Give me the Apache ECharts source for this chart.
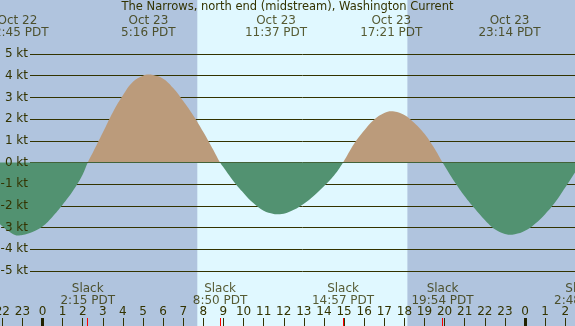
<!DOCTYPE html>
<html>
<head>
<meta charset="utf-8">
<title>The Narrows, north end (midstream), Washington Current</title>
<script src="https://cdn.jsdelivr.net/npm/echarts@6.0.0/dist/echarts.min.js"></script>
<style>
html, body { margin: 0; padding: 0; }
#currentDiv { width: 575px; height: 326px; }
</style>
</head>
<body>
<div id="currentDiv"></div>
<script>
// hours counted from 0:00 PDT Oct 23
var hours = [-2.5, -2.11, -1.5, -1.22, -1, -0.5, 0, 0.5, 1, 1.5, 2, 2.25, 2.5, 3, 3.5, 4, 4.5, 5, 5.27, 5.5,
	6, 6.5, 7, 7.5, 8, 8.5, 8.83, 9, 9.5, 10, 10.5, 11, 11.5, 11.62, 12, 12.5, 13, 13.5, 14, 14.5,
	14.95, 15.5, 16, 16.5, 17, 17.35, 17.5, 18, 18.5, 19, 19.5, 19.9, 20.5, 21, 21.5, 22, 22.5, 23,
	23.23, 23.5, 24, 24.5, 25, 25.5, 26, 26.5, 26.8, 27];
// current speed, kt (flood +, ebb -)
var speeds = [-2.4, -2.85, -3.28, -3.36, -3.34, -3.2, -2.95, -2.5, -1.95, -1.33, -0.55, 0, 0.45, 1.38, 2.32, 3.1, 3.72, 4.0, 4.05, 4.03,
	3.86, 3.43, 2.83, 2.17, 1.41, 0.58, 0, -0.22, -0.86, -1.4, -1.88, -2.22, -2.37, -2.39, -2.36, -2.18, -1.9, -1.53, -1.1, -0.6,
	0, 0.86, 1.47, 1.98, 2.28, 2.36, 2.35, 2.19, 1.82, 1.32, 0.64, 0, -0.9, -1.55, -2.12, -2.65, -3.08, -3.3,
	-3.33, -3.31, -3.15, -2.82, -2.38, -1.83, -1.15, -0.44, 0, 0.3];
// max flood / max ebb
var peakTimes = [-1.25, 5.267, 11.617, 17.35, 23.233];
var peakLabels = ['Oct 22\n22:45 PDT', 'Oct 23\n5:16 PDT', 'Oct 23\n11:37 PDT', 'Oct 23\n17:21 PDT', 'Oct 23\n23:14 PDT'];
// slack water
var slackTimes = [2.25, 8.833, 14.95, 19.9, 26.8];
var slackLabels = ['Slack\n2:15 PDT', 'Slack\n8:50 PDT', 'Slack\n14:57 PDT', 'Slack\n19:54 PDT', 'Slack\n2:48 PDT'];
// hour ticks along the bottom
var hourTicks = [-2, -1, 0, 1, 2, 3, 4, 5, 6, 7, 8, 9, 10, 11, 12, 13, 14, 15, 16, 17, 18, 19, 20, 21, 22, 23, 24, 25, 26];
var hourLabels = ['22', '23', '0', '1', '2', '3', '4', '5', '6', '7', '8', '9', '10', '11', '12', '13', '14', '15', '16', '17',
	'18', '19', '20', '21', '22', '23', '0', '1', '2'];
var midnightTicks = [0, 24];
// sunrise / sunset
var daylight = [7.7, 18.15];

var timeMin = -2.114, timeMax = 26.487;
var textColor = '#333300';
var fontName = 'DejaVu Sans';

$ready(function () {
	var myChart = echarts.init(document.getElementById('currentDiv'));
	var curveData = hours.map(function (h, i) { return [h, speeds[i]]; });
	var peakData = peakTimes.map(function (h, i) { return { value: [h, 1], label: { formatter: peakLabels[i] } }; });
	var slackData = slackTimes.map(function (h, i) { return { value: [h, 0], label: { formatter: slackLabels[i] } }; });

	function timeAxis(grid, extra) {
		var ax = { type: 'value', gridIndex: grid, min: timeMin, max: timeMax, show: false };
		for (var k in extra) ax[k] = extra[k];
		return ax;
	}

	var option = {
		backgroundColor: '#b0c4de',
		animation: false,
		textStyle: { fontFamily: fontName },
		title: {
			text: 'The Narrows, north end (midstream), Washington Current',
			left: 'center', top: 0, padding: [1, 0, 0, 0],
			textStyle: { fontSize: 11.5, fontWeight: 'normal', color: textColor, fontFamily: fontName, lineHeight: 12 }
		},
		grid: [
			{ left: 0, right: 0, top: 0, bottom: 0, outerBoundsMode: 'none' },    // whole frame: day band, ticks, labels
			{ left: 0, right: 0, top: 54, bottom: 55, outerBoundsMode: 'none' },  // current curve
			{ left: 30, right: 0, top: 54, bottom: 55, outerBoundsMode: 'none' }  // kt lines
		],
		visualMap: {
			show: false, type: 'piecewise', seriesIndex: 1, dimension: 1,
			pieces: [{ min: -10, max: 0, color: '#529271' }, { min: 0, max: 10, color: '#bb9b7b' }]
		},
		xAxis: [
			timeAxis(0, {
				show: true, position: 'bottom', z: 1,
				axisLine: { show: false }, splitLine: { show: false },
				axisTick: { show: true, inside: true, length: 8, customValues: hourTicks, lineStyle: { color: textColor, width: 1 } },
				axisLabel: {
					show: true, inside: true, margin: 8, customValues: hourTicks,
					color: textColor, fontSize: 12, lineHeight: 12, fontFamily: fontName,
					formatter: function (v) { return hourLabels[hourTicks.indexOf(v)]; }
				}
			}),
			timeAxis(0, {
				show: true, position: 'bottom', z: 1,
				axisLine: { show: false }, splitLine: { show: false }, axisLabel: { show: false },
				axisTick: { show: true, inside: true, length: 8, customValues: midnightTicks, lineStyle: { color: '#222200', width: 3 } }
			}),
			timeAxis(0, {
				show: true, position: 'bottom', z: 1,
				axisLine: { show: false }, splitLine: { show: false }, axisLabel: { show: false },
				axisTick: { show: true, inside: true, length: 8, customValues: slackTimes.slice(0, 4), lineStyle: { color: '#ff0000', width: 1 } }
			}),
			timeAxis(1, {}),
			timeAxis(2, {})
		],
		yAxis: [
			{ type: 'value', gridIndex: 0, min: 0, max: 1, show: false },
			{ type: 'value', gridIndex: 1, min: -5, max: 5, show: false },
			{
				type: 'value', gridIndex: 2, position: 'left', min: -5, max: 5, interval: 1, z: 1,
				axisLine: { show: false }, axisTick: { show: false }, axisLabel: { show: false },
				splitLine: { show: true, lineStyle: { color: textColor, width: 1 } }
			},
			{
				type: 'value', gridIndex: 2, position: 'left', min: -5, max: 5, interval: 1, z: 5,
				axisLine: { show: false }, axisTick: { show: false }, splitLine: { show: false },
				axisLabel: { margin: 2, formatter: '{value} kt', color: textColor, fontSize: 12, fontFamily: fontName }
			}
		],
		series: [
			{
				// daylight band
				type: 'line', xAxisIndex: 0, yAxisIndex: 0, z: 0, silent: true,
				data: [[daylight[0], 0], [daylight[1], 0]],
				showSymbol: false, lineStyle: { width: 0 },
				markArea: {
					silent: true, z: 0,
					itemStyle: { color: '#e0f8ff' },
					data: [[{ xAxis: daylight[0], yAxis: 0 }, { xAxis: daylight[1], yAxis: 1 }]]
				}
			},
			{
				type: 'line', xAxisIndex: 3, yAxisIndex: 1, z: 2,
				data: curveData, smooth: 0.4, showSymbol: false, silent: true,
				lineStyle: { width: 0 },
				areaStyle: { opacity: 1 }
			},
			{
				type: 'scatter', xAxisIndex: 0, yAxisIndex: 0, z: 3, clip: false, silent: true,
				symbolSize: 1, itemStyle: { color: 'transparent' },
				label: { show: true, position: 'bottom', distance: 14, color: textColor, fontSize: 12, lineHeight: 12, fontFamily: fontName, align: 'center' },
				data: peakData
			},
			{
				type: 'scatter', xAxisIndex: 0, yAxisIndex: 0, z: 3, clip: false, silent: true,
				symbolSize: 1, itemStyle: { color: 'transparent' },
				label: { show: true, position: 'top', distance: 19, color: textColor, fontSize: 12, lineHeight: 12, fontFamily: fontName, align: 'center' },
				data: slackData
			}
		]
	};
	myChart.setOption(option);
});

//页面加载完成
function $ready(fn) {
	if (document.readyState !== 'loading') fn();
	else document.addEventListener('DOMContentLoaded', fn);
}
</script>
</body>
</html>
